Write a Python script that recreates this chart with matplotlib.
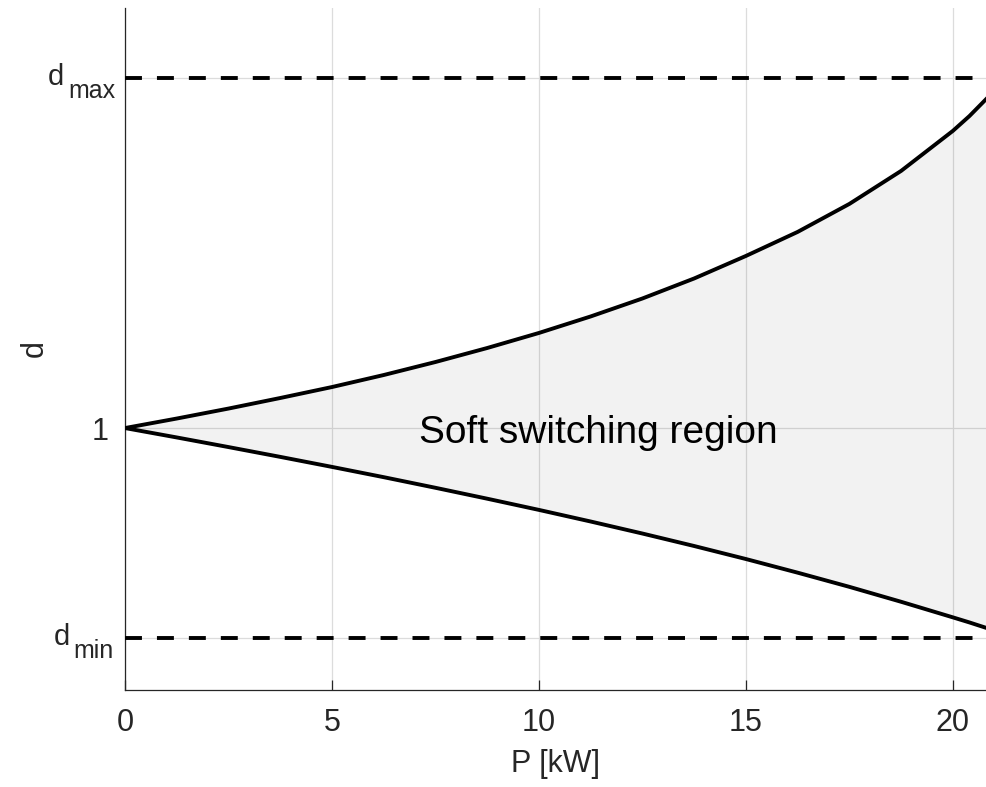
import matplotlib
matplotlib.use("Agg")
import matplotlib.pyplot as plt
import matplotlib.transforms as mtransforms

# power axis [kW] and boundary curves of the soft switching region
p_kw = [0, 1.25, 2.5, 3.75, 5, 6.25, 7.5, 8.75, 10, 11.25, 12.5, 13.75,
        15, 16.25, 17.5, 18.75, 20, 20.4, 20.8]
d_upper = [1.000, 1.0163, 1.0334, 1.0515, 1.0703, 1.0909, 1.1132, 1.1372,
           1.1630, 1.1913, 1.2221, 1.2564, 1.2950, 1.3362, 1.3842, 1.4408,
           1.5094, 1.5348, 1.5636]
d_lower = [1.000, 0.9839, 0.9674, 0.9506, 0.9334, 0.9158, 0.8976, 0.8789,
           0.8597, 0.8398, 0.8192, 0.7978, 0.7755, 0.7521, 0.7278, 0.7022,
           0.6755, 0.6668, 0.6576]
d_max = 1.6
d_min = 0.640
x_ticks = [0, 5, 10, 15, 20]

plt.rcParams['font.family'] = ['Liberation Sans', 'DejaVu Sans']
plt.rcParams['lines.scale_dashes'] = False

fig = plt.figure(figsize=(9.86, 7.87), dpi=100)
ax = fig.add_axes([125/986, 97/787, 1 - 125/986, 682/787])

ax.fill_between(p_kw, d_lower, d_upper, color='black', alpha=0.05,
                linewidth=0, zorder=2)
ax.plot(p_kw, d_upper, color='black', lw=2.8, zorder=3,
        solid_joinstyle='round')
ax.plot(p_kw, d_lower, color='black', lw=2.8, zorder=3,
        solid_joinstyle='round')
for yv in (d_max, d_min):
    ax.axhline(yv, color='black', lw=2.8, dashes=[12.2, 10.8], zorder=3)

ax.text(11.43, 0.992, 'Soft switching region', fontsize=28,
        ha='center', va='center', zorder=4)

ax.set_xlim(0, 20.8)
ax.set_ylim(0.551, 1.720)
ax.set_xticks(x_ticks)
ax.set_yticks([d_min, 1, d_max])
ax.set_yticklabels(['', '1', ''])
ax.grid(True, color='#dcdcdc', lw=0.9)
ax.set_axisbelow(True)

for side in ('top', 'right'):
    ax.spines[side].set_visible(False)
for side in ('left', 'bottom'):
    ax.spines[side].set_color('#262626')
    ax.spines[side].set_linewidth(0.9)
ax.tick_params(direction='in', length=7, width=0.9, colors='#262626',
               labelsize=22, labelcolor='#262626')
ax.tick_params(axis='x', pad=13)
ax.tick_params(axis='y', pad=12)

ax.set_xlabel('P [kW]', fontsize=22, color='#262626', labelpad=8)
ax.set_ylabel('d', fontsize=22, color='#262626', labelpad=30)

# d_max / d_min tick labels with a full-size lowered subscript
base = ax.get_yaxis_transform()
for yv, sub, dx_d, dx_s in ((d_max, 'max', -77, -57), (d_min, 'min', -71, -52)):
    tr_d = base + mtransforms.ScaledTranslation(dx_d/100, -7/100, fig.dpi_scale_trans)
    tr_s = base + mtransforms.ScaledTranslation(dx_s/100, -20/100, fig.dpi_scale_trans)
    ax.text(0, yv, 'd', transform=tr_d, fontsize=21, color='#262626',
            ha='left', va='baseline', clip_on=False)
    ax.text(0, yv, sub, transform=tr_s, fontsize=18, color='#262626',
            ha='left', va='baseline', clip_on=False)

fig.savefig('out.png', dpi=100)
